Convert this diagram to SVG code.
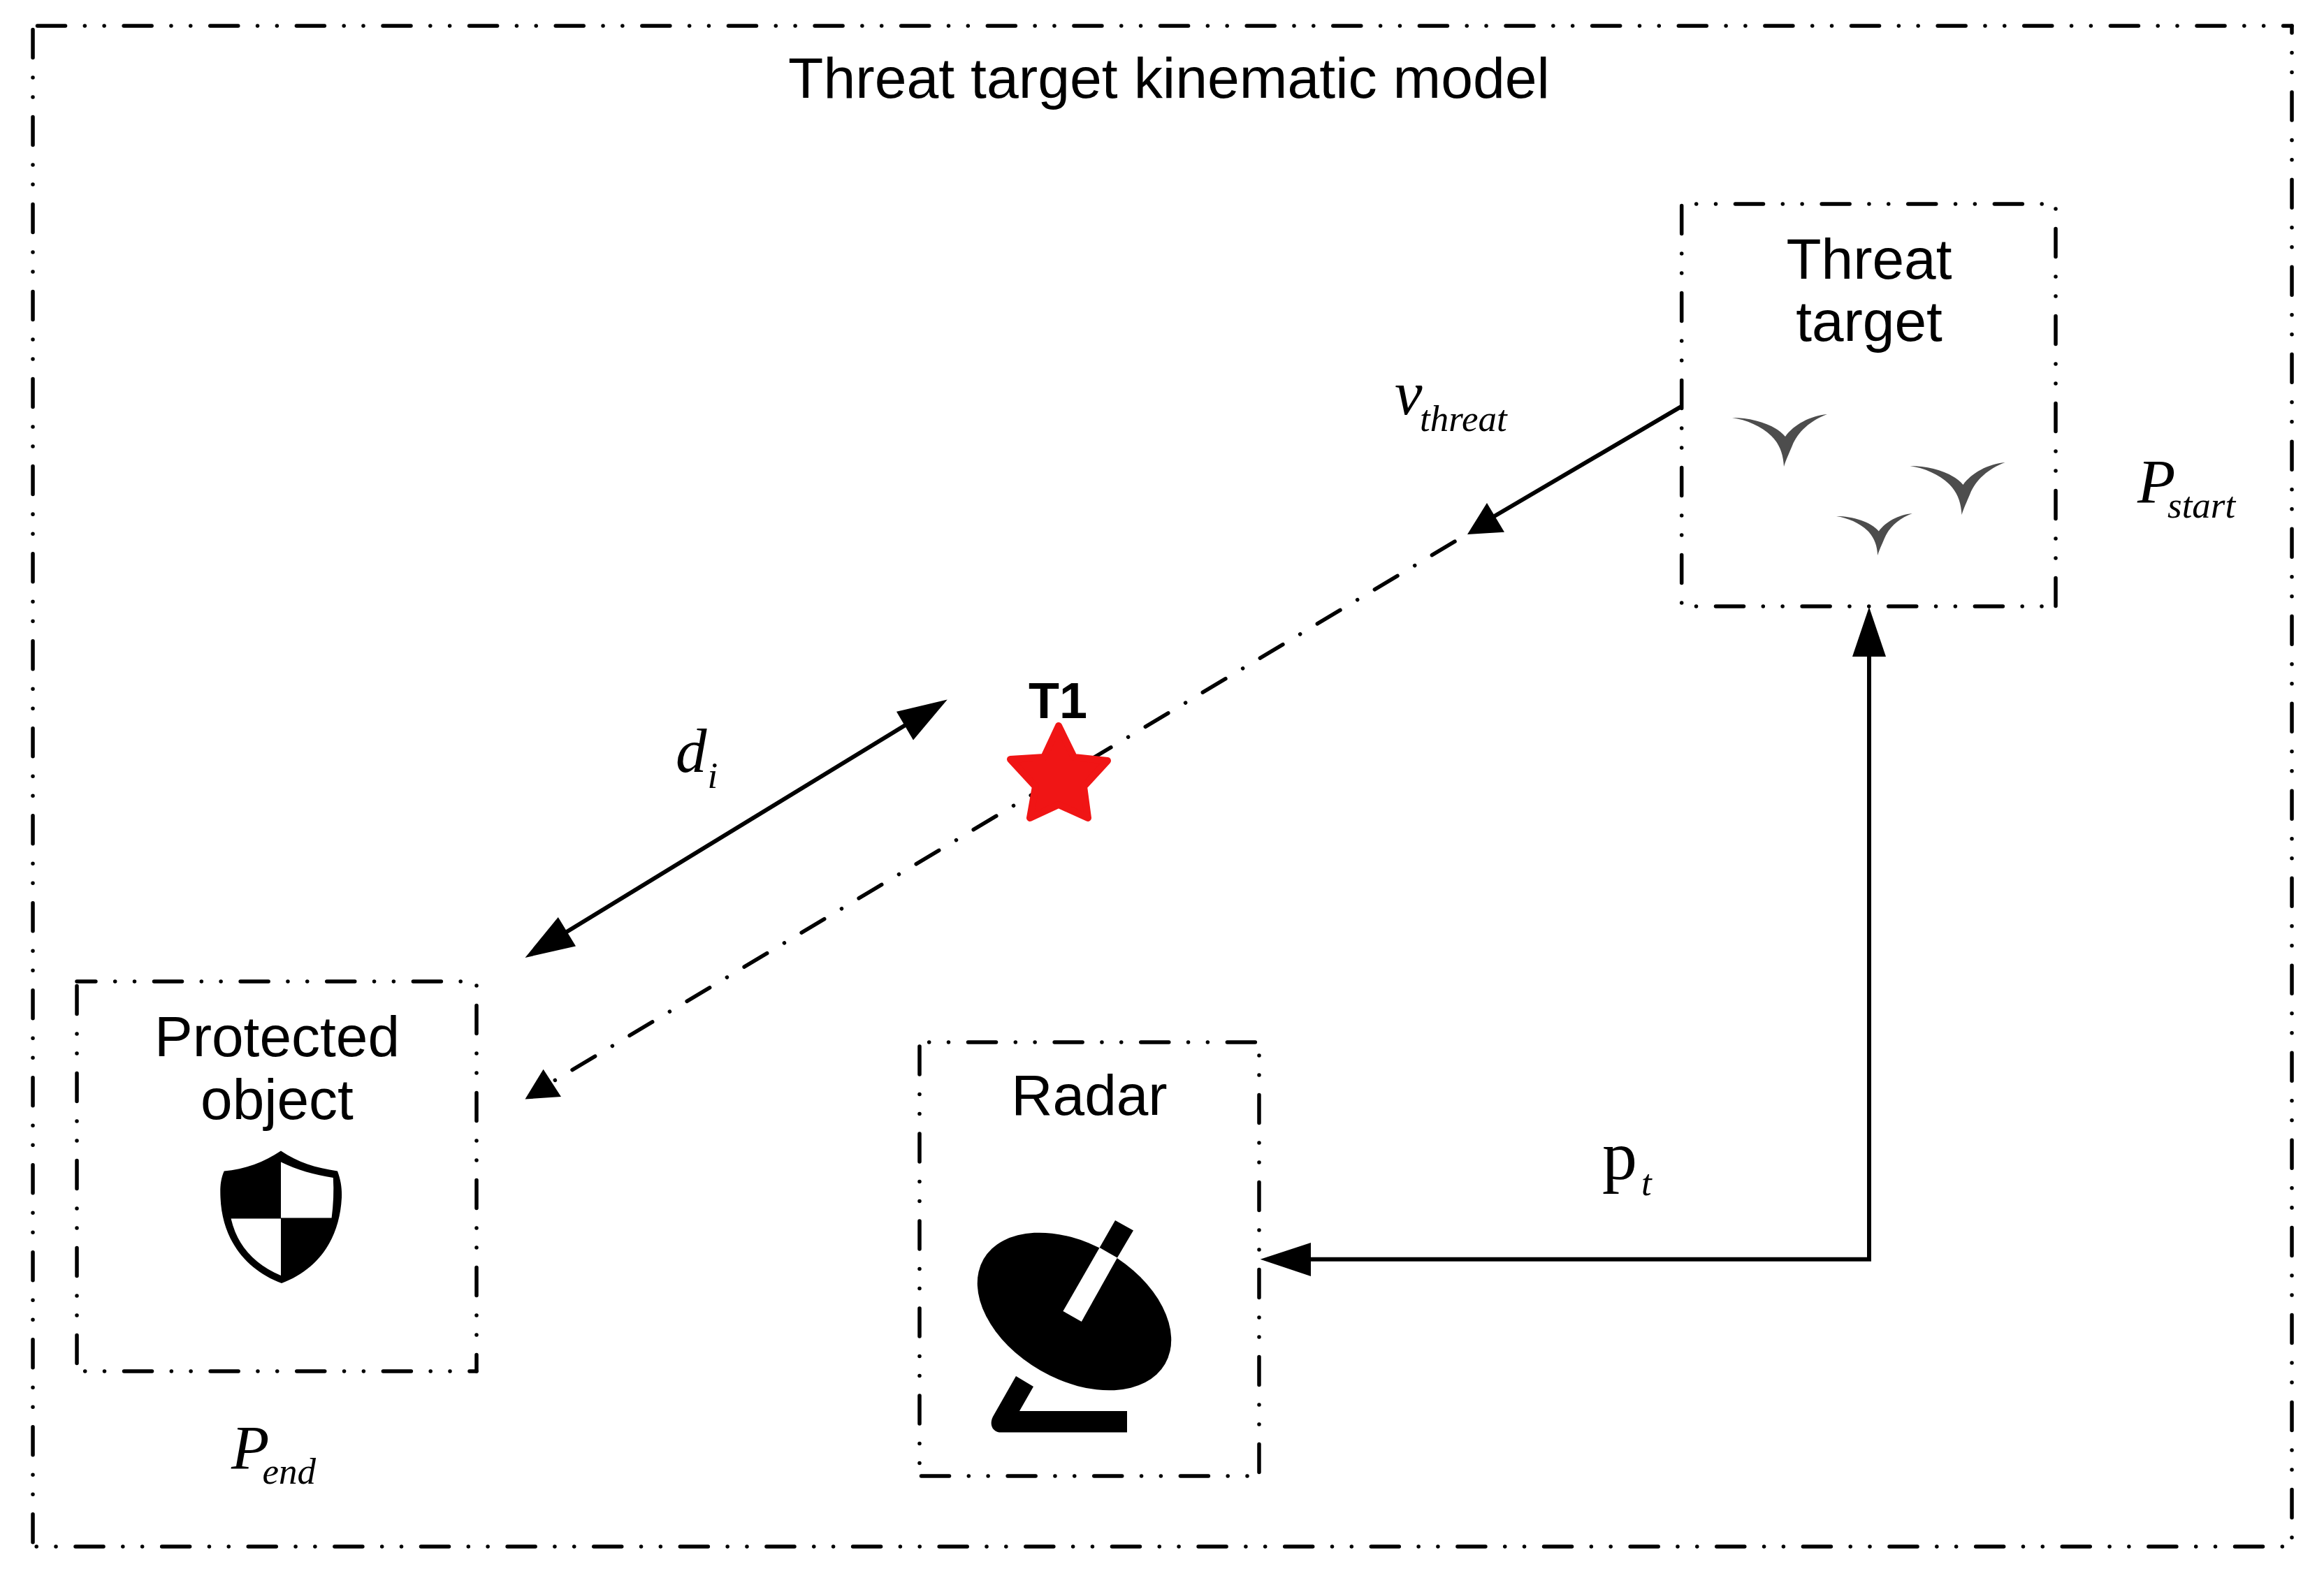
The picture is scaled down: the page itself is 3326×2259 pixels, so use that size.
<svg xmlns="http://www.w3.org/2000/svg" width="3326" height="2259" viewBox="0 0 3326 2259">
<style>
text{fill:#000}
.s{font-family:"Liberation Sans",Arial,sans-serif;font-size:82px;text-anchor:middle}
.m{font-family:"Liberation Serif","Times New Roman",serif;font-style:italic;font-size:89px}
.u{font-family:"Liberation Serif","Times New Roman",serif;font-style:italic;font-size:53px}
.h,.v,.dd{fill:none;stroke:#000;stroke-width:5.500;stroke-linecap:round}
.h{stroke-dasharray:40 27.8 .01 27.8 .01 28}
.v{stroke-dasharray:40 28.5 .01 28 .01 28.5}
.dd{stroke-dasharray:38 28.8 .01 28.8}
.ln{fill:none;stroke:#000;stroke-width:6}
.hd{fill:#000;stroke:none}
.bird{fill:#4d4d4d}
</style>
<defs>
<path id="bird-shape" d="M0 0C30 0 62 10 76 27C88 10 112-3 136-5C112 4 94 20 86 40C81 52 77 60 74 70C73 52 68 38 56 26C42 12 20 3 0 0Z"/>
</defs>
<rect width="3326" height="2259" fill="#fff"/>

<g id="frame">
<path class="h" d="M47 37H3280" stroke-dashoffset="117.1"/>
<path class="h" d="M47 2214H3280" stroke-dashoffset="62.6"/>
<path class="v" d="M47 37V2214" stroke-dashoffset="119.5"/>
<path class="v" d="M3280 37V2214" stroke-dashoffset="29.9"/>
<text class="s" style="font-size:82.400px" x="1673" y="140">Threat target kinematic model</text>
</g>

<g id="connectors">
<path class="ln" d="M2406.7 581.7L2125 747"/>
<polygon class="hd" points="2100,765 2128,720 2153,761.7"/>
<path class="dd" d="M2082 775.2L790 1549"/>
<polygon class="hd" points="751.5,1573.5 777.6,1530.8 803,1570"/>
<path class="ln" d="M1330 1017L775 1356"/>
<polygon class="hd" points="1355.8,1001.4 1283,1018.8 1307,1059.4"/>
<polygon class="hd" points="751.5,1371 798.8,1313 824,1354.6"/>
<path class="ln" d="M1860 1802.7H2675V920"/>
<polygon class="hd" points="1803.6,1802.7 1876,1779 1876,1827"/>
<polygon class="hd" points="2675,869 2651,940 2699,940"/>
</g>

<g id="threat-target">
<path class="h" d="M2406 292H2942" stroke-dashoffset="46.1"/>
<path class="h" d="M2406 868H2942" stroke-dashoffset="74.1"/>
<path class="v" d="M2406.7 292V868" stroke-dashoffset="122.5"/>
<path class="v" d="M2942 292V868" stroke-dashoffset="89.5"/>
<text class="s" x="2675" y="399">Threat</text>
<text class="s" x="2675" y="488">target</text>
<use href="#bird-shape" class="bird" transform="translate(2479 598)"/>
<use href="#bird-shape" class="bird" transform="translate(2733.5 667)"/>
<use href="#bird-shape" class="bird" transform="translate(2628 739) scale(.8)"/>
</g>

<g id="radar">
<path class="h" d="M1316 1492H1802" stroke-dashoffset="54.1"/>
<path class="h" d="M1316 2113H1802" stroke-dashoffset="121.1"/>
<path class="v" d="M1316 1492V2113" stroke-dashoffset="119"/>
<path class="v" d="M1802 1492V2113" stroke-dashoffset="49.5"/>
<text class="s" x="1559" y="1596">Radar</text>
<ellipse cx="1537.5" cy="1877.5" rx="150" ry="97.4" transform="rotate(30 1537.5 1877.5)"/>
<polygon fill="#fff" points="1573.7,1786 1599,1800.4 1547.8,1892 1521.4,1877"/>
<polygon points="1596,1747 1622,1761.4 1599,1800.4 1573.7,1786"/>
<path d="M1454 1970L1479 1985L1459 2020H1613V2050.6H1433C1421 2050.6 1415 2040 1421 2028Z"/>
</g>

<g id="protected-object">
<path class="h" d="M110 1405H682" stroke-dashoffset="13.1"/>
<path class="h" d="M110 1963H682" stroke-dashoffset="56.1"/>
<path class="v" d="M110 1405V1963" stroke-dashoffset="118.5"/>
<path class="v" d="M682 1405V1963" stroke-dashoffset="90.5"/>
<text class="s" x="396.500" y="1512">Protected</text>
<text class="s" x="396.500" y="1602">object</text>
<path d="M402 1647.6C378 1664 350 1674 320.7 1676.6C315 1690 315 1702 315.5 1714.5C318 1775 352 1818 403 1837C454 1818 486 1775 489 1714.5C489.500 1702 488 1690 483 1676.600C452 1672 426 1664 402 1647.6Z"/>
<path fill="#fff" d="M402 1663.6C425 1675 450 1682 476.800 1686C478 1705 477 1725 474.600 1743.500H402Z"/>
<path fill="#fff" d="M330.600 1744.500H402V1826C365 1810 340 1785 330.600 1744.500Z"/>
</g>

<g id="t1">
<text font-family="Liberation Sans, Arial, sans-serif" font-weight="700" font-size="72" text-anchor="middle" x="1514" y="1028">T1</text>
<polygon fill="#f01515" stroke="#f01515" stroke-width="10" stroke-linejoin="round" points="1515,1039 1537,1084 1585,1089 1551,1126 1557,1171 1515,1152 1474,1171 1482,1126 1446,1087 1494,1084"/>
</g>

<g id="labels">
<text class="m" x="1996" y="593">v</text>
<text class="u" x="2032" y="617">threat</text>
<text class="m" x="3059" y="719">P</text>
<text class="u" x="3102" y="741">start</text>
<text class="m" x="331" y="2102">P<tspan class="u" dx="-10" dy="22">end</tspan></text>
<text class="m" x="967" y="1105">d<tspan class="u" dx="1" dy="23">i</tspan></text>
<text font-family="Liberation Serif, Times New Roman, serif" font-size="100" x="2293" y="1688">p</text>
<text class="u" x="2349" y="1711">t</text>
</g>
</svg>
